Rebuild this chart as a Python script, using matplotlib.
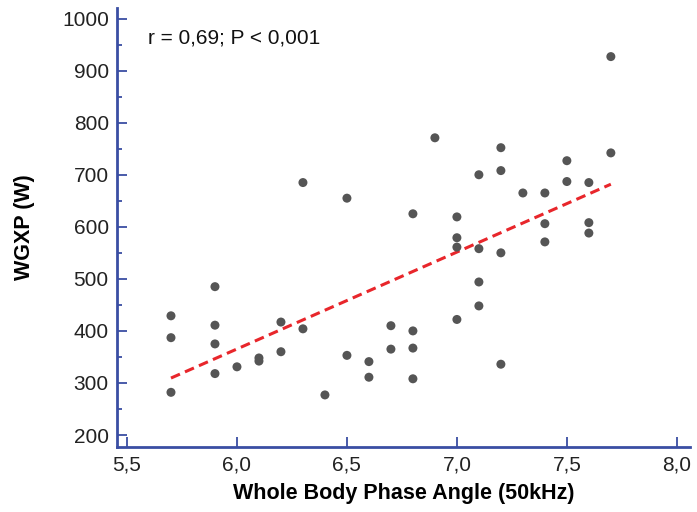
import numpy as np
import matplotlib
matplotlib.use("Agg")
import matplotlib.pyplot as plt
from matplotlib.ticker import MultipleLocator, FuncFormatter

plt.rcParams['font.family'] = ['Liberation Sans', 'DejaVu Sans']

# phase angle (50kHz) and WGXP (W)
phase_angle = [5.7, 5.7, 5.7, 5.9, 5.9, 5.9, 5.9, 6.0, 6.1, 6.1, 6.2, 6.2,
               6.3, 6.3, 6.4, 6.5, 6.5, 6.6, 6.6, 6.7, 6.7, 6.8, 6.8, 6.8,
               6.8, 6.9, 7.0, 7.0, 7.0, 7.0, 7.1, 7.1, 7.1, 7.1, 7.2, 7.2,
               7.2, 7.2, 7.3, 7.4, 7.4, 7.4, 7.5, 7.5, 7.6, 7.6, 7.6, 7.7,
               7.7]
wgxp = [429, 387, 282, 485, 411, 375, 318, 331, 348, 342, 417, 360,
        404, 685, 277, 655, 353, 341, 311, 410, 365, 625, 400, 367,
        308, 771, 619, 579, 561, 422, 700, 558, 494, 448, 752, 708,
        550, 336, 665, 665, 606, 571, 727, 687, 685, 608, 588, 927,
        742]

annot = "r = 0,69; P < 0,001"

blue = '#3a4ea3'

fig = plt.figure(figsize=(6.97, 5.12), dpi=100)
ax = fig.add_axes([0.168, 0.127, 0.822, 0.857])

x = np.array(phase_angle)
y = np.array(wgxp)
ax.scatter(x, y, s=42, color='#555555', edgecolors='none', zorder=3)

# least squares line over the data range
k, b = np.polyfit(x, y, 1)
xs = np.array([x.min(), x.max()])
ax.plot(xs, k * xs + b, color='#e8262b', lw=2.2, ls=(0, (3.2, 1.8)), zorder=2)

ax.set_xlim(5.455, 8.06)
ax.set_ylim(177, 1020)
ax.xaxis.set_major_locator(MultipleLocator(0.5))
ax.yaxis.set_major_locator(MultipleLocator(100))
ax.yaxis.set_minor_locator(MultipleLocator(50))
ax.xaxis.set_major_formatter(FuncFormatter(lambda v, p: f"{v:.1f}".replace('.', ',')))
ax.yaxis.set_major_formatter(FuncFormatter(lambda v, p: f"{int(v)}" if v >= 200 else ""))

for s in ['top', 'right']:
    ax.spines[s].set_visible(False)
for s in ['left', 'bottom']:
    ax.spines[s].set_color(blue)
    ax.spines[s].set_linewidth(2)

ax.tick_params(axis='both', which='major', direction='in', length=7, width=1.3,
               color=blue, labelsize=15, labelcolor='#222222')
ax.tick_params(axis='y', which='major', pad=6)
ax.tick_params(axis='x', which='major', pad=6)
ax.tick_params(axis='y', which='minor', direction='in', length=3.8, width=1.3, color=blue)

ax.set_xlabel("Whole Body Phase Angle (50kHz)", fontsize=15.5, fontweight='bold', labelpad=6)
ax.set_ylabel("WGXP (W)", fontsize=15.5, fontweight='bold', labelpad=19)

ax.text(0.054, 0.932, annot, transform=ax.transAxes, fontsize=15,
        color='#111111', va='center', ha='left')

fig.savefig("out.png", dpi=100)
